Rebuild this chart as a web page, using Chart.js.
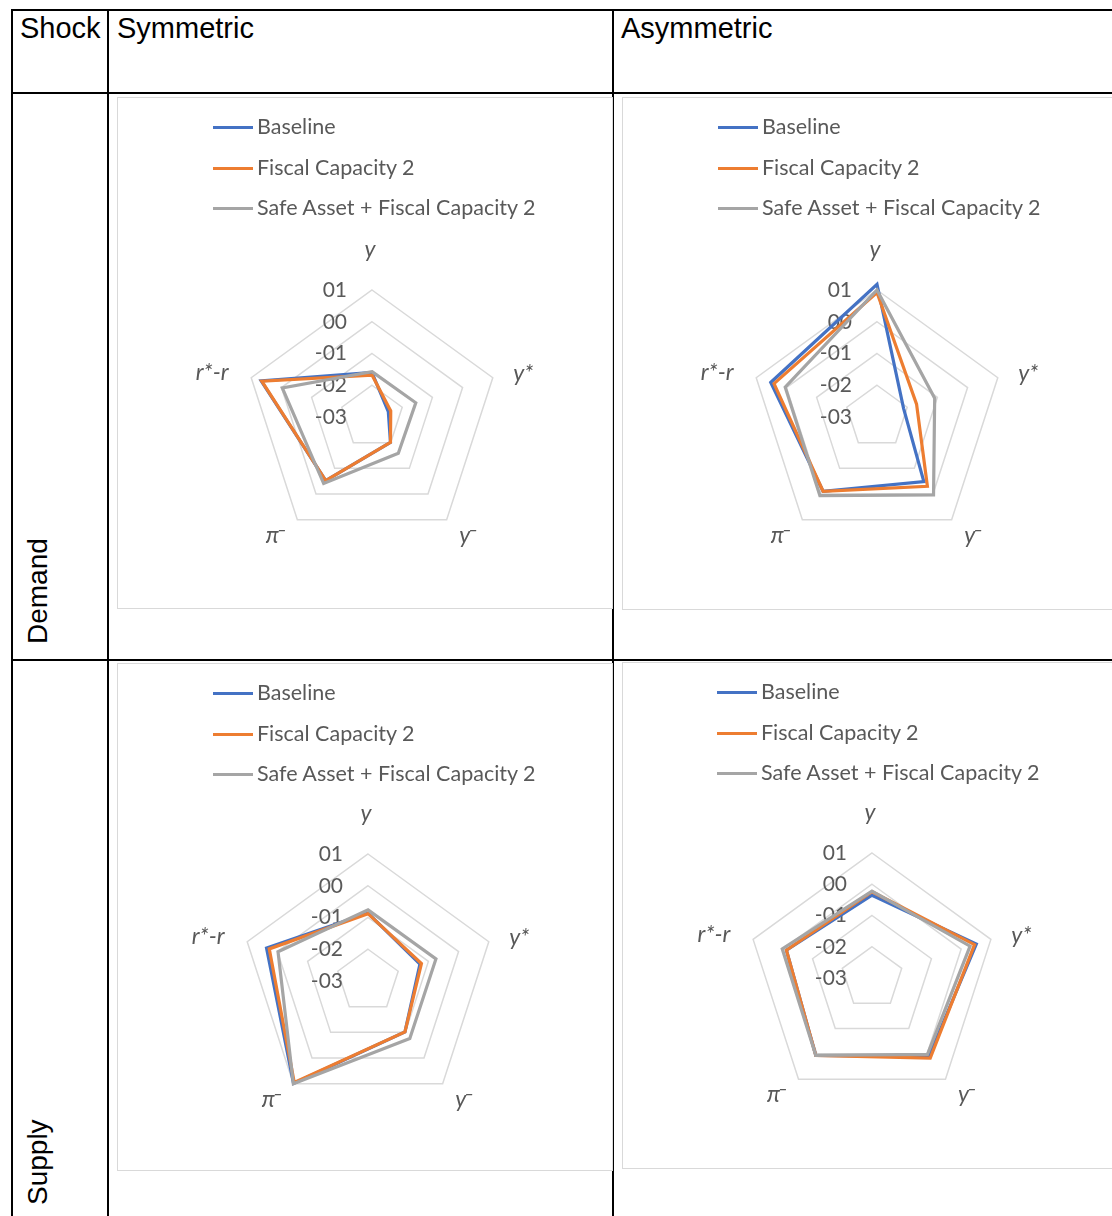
<!DOCTYPE html>
<html>
<head>
<meta charset="utf-8">
<script src="https://cdn.jsdelivr.net/npm/chart.js@4.4.1/dist/chart.umd.min.js"></script>
<style>
  body { margin: 0; background: #fff; }
  #page { position: relative; width: 1112px; height: 1216px; overflow: hidden; }
  .hl, .vl { position: absolute; background: #000; }
  .hl { height: 2px; }
  .vl { width: 2px; }
  .head { position: absolute; font: 29px/28px "Liberation Sans", Arial, sans-serif; color: #000; white-space: nowrap; }
  .rot { position: absolute; font: 28px/28px "Liberation Sans", Arial, sans-serif; color: #000;
         transform: rotate(-90deg); transform-origin: 0 0; white-space: nowrap; }
  .box { position: absolute; border: 1.5px solid #d9d9d9; box-sizing: border-box; }
  .legend { position: absolute; font: 21.5px Lato, sans-serif; color: #595959; }
  .legend div { position: absolute; left: 0; height: 24px; line-height: 24px; white-space: nowrap; }
  .legend span.sw { display: inline-block; width: 40px; height: 3px; vertical-align: middle; margin-right: 4px; position: relative; top: -1px; }
  canvas { position: absolute; }
</style>
</head>
<body>
<div id="page">
  <div class="hl" style="left:12px; top:9px; width:1100px;"></div>
  <div class="hl" style="left:12px; top:92px; width:1100px;"></div>
  <div class="hl" style="left:12px; top:659px; width:1100px;"></div>
  <div class="vl" style="left:11px; top:9px; height:1207px;"></div>
  <div class="vl" style="left:107px; top:9px; height:1207px;"></div>
  <div class="vl" style="left:612px; top:9px; height:1207px;"></div>

  <div class="head" style="left:20px; top:14px;">Shock</div>
  <div class="head" style="left:117px; top:14px;">Symmetric</div>
  <div class="head" style="left:621px; top:14px;">Asymmetric</div>
  <div class="rot" style="left:24px; top:644px;">Demand</div>
  <div class="rot" style="left:24px; top:1205px;">Supply</div>

  <div class="box" style="left:117px; top:97px; width:496px; height:512px;"></div>
  <div class="box" style="left:622px; top:97px; width:496px; height:513px;"></div>
  <div class="box" style="left:117px; top:663px; width:496px; height:508px;"></div>
  <div class="box" style="left:622px; top:662px; width:496px; height:507px;"></div>
</div>
<script>
// data
const axes = ["y", "y*", "y\u00af", "\u03c0\u00af", "r*-r"];
const tickLabels = ["-03", "-02", "-01", "00", "01"];
const series = ["Baseline", "Fiscal Capacity 2", "Safe Asset + Fiscal Capacity 2"];

const symDemandBaseline = [-0.160, -0.246, -0.201, -0.052, 0.067];
const symDemandFiscal   = [-0.168, -0.238, -0.201, -0.052, 0.065];
const symDemandSafe     = [-0.157, -0.155, -0.159, -0.041, -0.003];

const asymDemandBaseline = [0.118, -0.212, -0.049, -0.011, 0.052];
const asymDemandFiscal   = [0.092, -0.169, -0.030, -0.011, 0.041];
const asymDemandSafe     = [0.100, -0.109, 0.003, 0.006, 0.004];

const symSupplyBaseline = [-0.086, -0.128, -0.102, 0.099, 0.036];
const symSupplyFiscal   = [-0.088, -0.123, -0.102, 0.095, 0.027];
const symSupplySafe     = [-0.076, -0.075, -0.076, 0.100, -0.002];

const asymSupplyBaseline = [-0.035, 0.051, 0.010, 0.006, -0.012];
const asymSupplyFiscal   = [-0.024, 0.045, 0.017, 0.006, -0.012];
const asymSupplySafe     = [-0.022, 0.030, 0.002, 0.006, 0.002];

const colors = ["#4472C4", "#ED7D31", "#A5A5A5"];

// Excel style labels: ticks right aligned left of the axis, axis names centred outside the web
const labelGap = [40, 30, 29, 29, 39];
const labelNudge = [[-2, 0], [2, 5], [1, -8], [-8, -8], [-2, 7]];
const radarLabels = {
    id: 'radarLabels',
    beforeDatasetsDraw(chart) {
        const r = chart.scales.r;
        const ctx = chart.ctx;
        ctx.save();
        ctx.fillStyle = '#595959';
        ctx.textBaseline = 'middle';
        ctx.font = '21px Lato';
        ctx.textAlign = 'right';
        r.ticks.forEach((t, i) => {
            ctx.fillText(tickLabels[i], r.xCenter - 25, r.yCenter - r.getDistanceFromCenterForValue(t.value));
        });
        ctx.font = 'italic 23px Lato';
        axes.forEach((lab, i) => {
            const p = r.getPointPosition(i, r.drawingArea + labelGap[i]);
            const x = p.x + labelNudge[i][0];
            const y = p.y + labelNudge[i][1];
            if (lab.endsWith('\u00af')) {
                // bar drawn just right of the letter, level with its top, as in the source
                const base = lab.slice(0, -1);
                const wb = ctx.measureText(base).width;
                ctx.textAlign = 'center';
                ctx.fillText(base, x, y);
                ctx.textAlign = 'left';
                ctx.fillText('\u00af', x + wb / 2 - 3, y + 3);
            } else {
                ctx.textAlign = 'center';
                ctx.fillText(lab, x, y);
            }
        });
        ctx.restore();
    }
};

const page = document.getElementById('page');

function addLegend(x, y) {
    const lg = document.createElement('div');
    lg.className = 'legend';
    lg.style.left = x + 'px';
    lg.style.top = y + 'px';
    series.forEach((name, i) => {
        const row = document.createElement('div');
        row.style.top = (i * 40.5 - 12) + 'px';
        row.innerHTML = '<span class="sw" style="background:' + colors[i] + '"></span>' + name;
        lg.appendChild(row);
    });
    page.appendChild(lg);
}

// canvas covers the chart box; layout padding leaves a square of 2*rad round (cx, cy)
function makeChart(left, top, w, h, cx, cy, rad, values) {
    const cv = document.createElement('canvas');
    cv.width = w;
    cv.height = h;
    cv.style.left = left + 'px';
    cv.style.top = top + 'px';
    page.appendChild(cv);
    new Chart(cv, {
        type: 'radar',
        data: {
            labels: axes,
            datasets: values.map((v, i) => ({
                label: series[i],
                data: v,
                borderColor: colors[i],
                backgroundColor: colors[i],
                borderWidth: 3.2,
                pointRadius: 0,
                fill: false,
                order: 3 - i
            }))
        },
        options: {
            responsive: false,
            animation: false,
            layout: {
                padding: {
                    left: cx - left - rad,
                    top: cy - top - rad,
                    right: w - (cx - left + rad),
                    bottom: h - (cy - top + rad)
                }
            },
            plugins: { legend: { display: false }, tooltip: { enabled: false } },
            scales: {
                r: {
                    min: -0.3,
                    max: 0.1,
                    ticks: { stepSize: 0.1, display: false },
                    angleLines: { display: false },
                    grid: {
                        color: (c) => c.index === 0 ? 'rgba(0,0,0,0)' : '#d9d9d9',
                        lineWidth: 1.5
                    },
                    pointLabels: { display: false }
                }
            }
        },
        plugins: [radarLabels]
    });
}

makeChart(117, 97, 496, 512, 372, 417, 127, [symDemandBaseline, symDemandFiscal, symDemandSafe]);
makeChart(622, 97, 496, 513, 877, 417, 127, [asymDemandBaseline, asymDemandFiscal, asymDemandSafe]);
makeChart(117, 663, 496, 508, 368, 981, 127, [symSupplyBaseline, symSupplyFiscal, symSupplySafe]);
makeChart(622, 662, 496, 507, 872, 978, 125, [asymSupplyBaseline, asymSupplyFiscal, asymSupplySafe]);

addLegend(213, 126);
addLegend(718, 126);
addLegend(213, 692);
addLegend(717, 691);
</script>
</body>
</html>
